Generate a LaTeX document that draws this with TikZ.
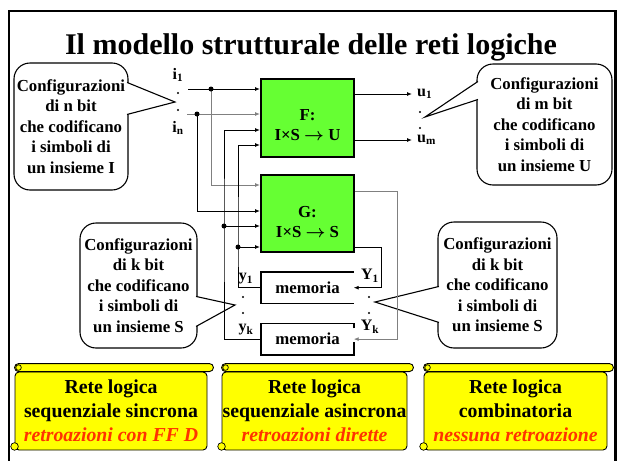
\documentclass[tikz,border=0pt]{standalone}
\usepackage{fontspec}
\setmainfont{Liberation Serif}
\usetikzlibrary{arrows.meta, positioning}

\definecolor{verdeblocco}{RGB}{102,255,51}
\definecolor{gialloperg}{RGB}{255,255,0}
\definecolor{rossonota}{RGB}{255,51,0}

\begin{document}
\begin{tikzpicture}[x=1pt, y=-1pt,
            blocco/.style   ={rectangle, draw=black, line width=2pt, fill=verdeblocco,
                              minimum width=93pt, minimum height=78pt},
            testoblocco/.style={font=\fontsize{16.8}{20}\selectfont\bfseries\boldmath, align=center},
            memoria/.style  ={rectangle, minimum width=92pt, minimum height=31pt,
                              font=\fontsize{16.8}{20}\selectfont\bfseries},
            fumetto/.style  ={rectangle, draw=black, line width=1.1pt, fill=white, rounded corners=16pt,
                              align=center, inner sep=0pt, font=\fontsize{16.8}{20.5}\selectfont\bfseries},
            punta/.style    ={draw=black, line width=1.1pt, fill=white},
            pergamena/.style={rectangle, draw=black, line width=0.9pt, fill=gialloperg, rounded corners=4pt,
                              minimum height=78pt, inner sep=0pt, align=center,
                              font=\fontsize{19.8}{24}\selectfont\bfseries},
            segnale/.style  ={font=\fontsize{16}{18}\selectfont\bfseries, inner sep=0pt},
            punto/.style    ={circle, fill=black, inner sep=0pt, minimum size=2.4pt},
            filo/.style     ={line width=0.9pt, -{Latex[length=5pt,width=4pt]}}
        ]
            \useasboundingbox (0,0) rectangle (622,461);

            % --- Cornice e titolo ---
            \draw[line width=2.2pt] (9,470) -- (9,11) -- (615.5,11) -- (615.5,470);
            \node[font=\fontsize{30}{36}\selectfont\bfseries, anchor=base] (titolo) at (311,54)
                {Il modello strutturale delle reti logiche};

            % --- Fumetti ---
            \node[fumetto, minimum width=114pt, minimum height=127pt] (fumI) at (71,126.5)
                {Configurazioni\\di n bit\\che codificano\\i simboli di\\un insieme I};
            \node[fumetto, minimum width=135pt, minimum height=121pt] (fumU) at (544.5,124.5)
                {Configurazioni\\di m bit\\che codificano\\i simboli di\\un insieme U};
            \node[fumetto, minimum width=117pt, minimum height=125pt] (fumSy) at (138.5,285.5)
                {Configurazioni\\di k bit\\che codificano\\i simboli di\\un insieme S};
            \node[fumetto, minimum width=119pt, minimum height=126pt] (fumSY) at (497.5,285)
                {Configurazioni\\di k bit\\che codificano\\i simboli di\\un insieme S};

            \coordinate (puntaI)  at (175,102);
            \coordinate (puntaU)  at (425,117);
            \coordinate (puntaSy) at (235,305);
            \coordinate (puntaSY) at (375,302);
            \draw[punta] ([shift={(-1.5pt,-20pt)}]fumI.north east) -- (puntaI) -- ([shift={(-1.5pt,-52pt)}]fumI.north east);
            \draw[punta] ([shift={(1.5pt,-18pt)}]fumU.north west) -- (puntaU) -- ([shift={(1.5pt,-36pt)}]fumU.north west);
            \draw[punta] ([shift={(-1.5pt,-74pt)}]fumSy.north east) -- (puntaSy) -- ([shift={(-1.5pt,-104pt)}]fumSy.north east);
            \draw[punta] ([shift={(1.5pt,-65pt)}]fumSY.north west) -- (puntaSY) -- ([shift={(1.5pt,-101pt)}]fumSY.north west);

            % --- Blocchi F e G, memorie ---
            \node[blocco] (F) at (307.5,118) {};
            \node[testoblocco] (Ftxt) at ([yshift=-7pt]F.center) {F:\\I×S $\rightarrow$ U};
            \node[blocco, minimum height=77pt, below=16pt of F] (G) {};
            \node[testoblocco] (Gtxt) at ([yshift=-8.5pt]G.center) {G:\\I×S $\rightarrow$ S};
            \node[memoria, below=19pt of G]  (mem1) {memoria};
            \node[memoria, below=20pt of mem1] (memk) {memoria};
            \draw[line width=1.8pt] (mem1.north east) -- (mem1.north west) -- (mem1.south west) -- (mem1.south east);
            \draw[line width=1.8pt] ([yshift=-5pt]memk.north east) -- (memk.north east) -- (memk.north west)
                -- (memk.south west) -- (memk.south east) -- ([yshift=13pt]memk.south east);

            % --- Ingressi ---
            \coordinate (in1) at (188,89);
            \coordinate (inn) at (187,114);
            \coordinate (r1)  at (211,89);
            \coordinate (rn)  at (197,114);
            \draw[filo] (in1) -- (F.west |- in1);
            \draw[filo, gray] (inn) -- (F.west |- inn);
            \draw[filo, gray] (r1) |- (G.west |- 0,185);
            \draw[filo] (rn) |- (G.west |- 0,211);

            % --- Retroazioni dalle memorie ---
            \coordinate (fb1) at (238,247);
            \coordinate (fbk) at (224,226);
            \draw[filo] (mem1.west) -| (fb1) |- (F.west |- 0,145);
            \draw[filo] (fb1) -- (G.west |- fb1);
            \draw[filo] (memk.west) -| (fbk) |- (F.west |- 0,130);
            \draw[filo] (fbk) -- (G.west |- fbk);

            % --- Uscite di F e di G ---
            \coordinate (u1) at (412,94);
            \coordinate (um) at (412,140);
            \draw[filo] (F.east |- u1) -- (u1);
            \draw[filo] (F.east |- um) -- (um);
            \draw[filo, gray] (G.east |- 0,191) -| ([xshift=44pt]memk.east) -- (memk.east);
            \draw[filo] (G.east |- 0,247) -| ([xshift=28pt]mem1.east) -- (mem1.east);

            \foreach \p in {r1, rn, fb1, fbk}
                \fill (\p) circle (2.5pt);

            % --- Nomi dei segnali ---
            \node[segnale] (li1) at (178,75)  {i\textsubscript{1}};
            \node[segnale] (lin) at (178,128) {i\textsubscript{n}};
            \node[segnale, right=5pt of u1] (lu1) {u\textsubscript{1}};
            \node[segnale, right=5pt of um] (lum) {u\textsubscript{m}};
            \node[segnale] (ly1) at (246,279) {y\textsubscript{1}};
            \node[segnale] (lyk) at (246,330) {y\textsubscript{k}};
            \node[segnale] (lY1) at (370,276) {Y\textsubscript{1}};
            \node[segnale] (lYk) at (370,327) {Y\textsubscript{k}};
            \foreach \x/\y [count=\k] in {178/93, 178/110, 420/112, 420/128, 243/297, 243/313, 369/297, 369/313}
                \node[punto] (pt\k) at (\x,\y) {};

            % --- Pergamene ---
            \node[pergamena, minimum width=192pt] (pergS) at (111,411)
                {Rete logica\\sequenziale sincrona\\\textcolor{rossonota}{\itshape retroazioni con FF D}};
            \node[pergamena, minimum width=185pt] (pergA) at (314.5,411)
                {Rete logica\\sequenziale asincrona\\\textcolor{rossonota}{\itshape retroazioni dirette}};
            \node[pergamena, minimum width=183pt] (pergC) at (515.5,411)
                {Rete logica\\combinatoria\\\textcolor{rossonota}{\itshape nessuna retroazione}};
            \foreach \s in {pergS, pergA, pergC}{
                \draw[line width=0.9pt, fill=gialloperg, rounded corners=4pt]
                    (\s.north west) rectangle ([shift={(6pt,8pt)}]\s.north east);
                \draw[line width=0.7pt, fill=gialloperg] ([shift={(4pt,4pt)}]\s.north west) circle (2.8pt);
                \draw[line width=0.7pt, fill=gialloperg] ([shift={(0pt,4pt)}]\s.south west) circle (3.8pt);
            }
        \end{tikzpicture}
\end{document}
